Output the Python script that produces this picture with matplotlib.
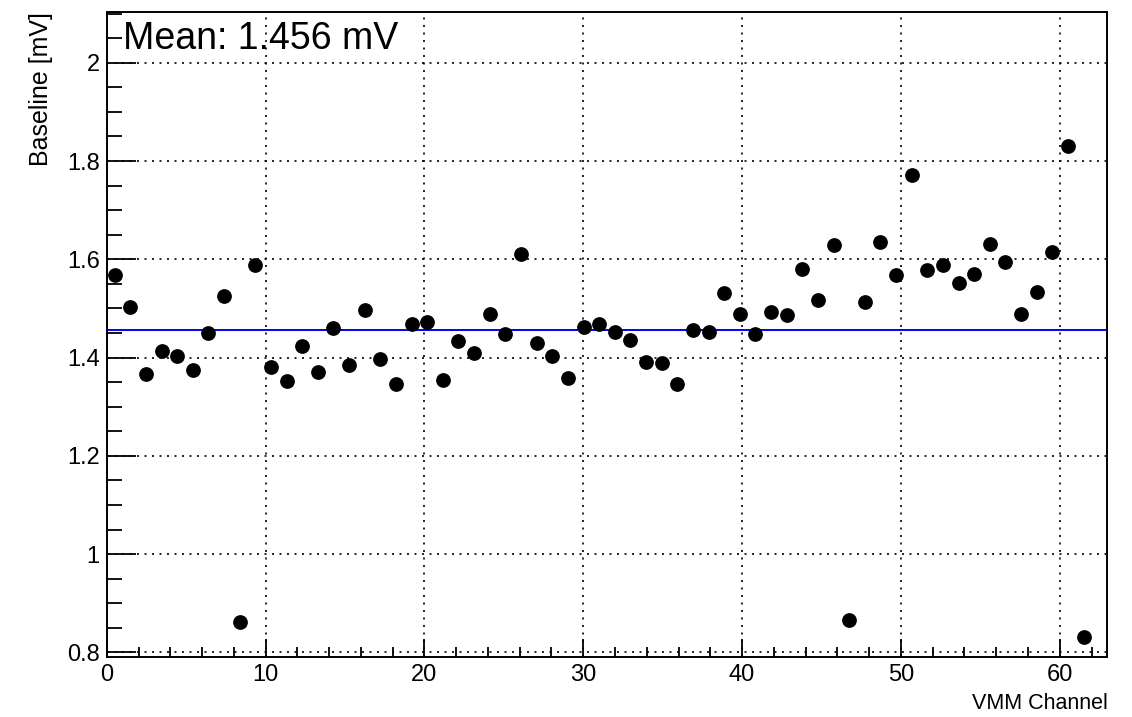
import numpy as np
import matplotlib
matplotlib.use("Agg")
import matplotlib.pyplot as plt
from matplotlib.ticker import MultipleLocator

plt.rcParams['font.family'] = ['Liberation Sans', 'DejaVu Sans']

# baseline per VMM channel [mV]
baseline = [1.569, 1.502, 1.367, 1.414, 1.403, 1.375, 1.450, 1.526, 0.862, 1.588,
            1.380, 1.352, 1.423, 1.370, 1.461, 1.385, 1.497, 1.397, 1.346, 1.468,
            1.472, 1.354, 1.434, 1.409, 1.489, 1.448, 1.611, 1.429, 1.404, 1.358,
            1.463, 1.468, 1.453, 1.436, 1.392, 1.388, 1.346, 1.457, 1.453, 1.531,
            1.489, 1.447, 1.493, 1.487, 1.581, 1.517, 1.629, 0.865, 1.514, 1.635,
            1.568, 1.772, 1.578, 1.588, 1.551, 1.570, 1.631, 1.595, 1.489, 1.534,
            1.614, 1.831, 0.831]
mean_value = 1.456
x_first = 0.5
x_last = 61.5

channel = np.linspace(x_first, x_last, len(baseline))

fig = plt.figure(figsize=(11.32, 7.17), dpi=100)
ax = fig.add_axes([0.0943, 0.0833, 0.8840, 0.8997])

ax.plot(channel, baseline, 'o', color='black', markersize=9.6, zorder=3)
ax.axhline(mean_value, color='#0000ff', linewidth=1.4, zorder=2)

ax.set_xlim(0, 63)
ax.set_ylim(0.79, 2.103)

ax.xaxis.set_major_locator(MultipleLocator(10))
ax.xaxis.set_minor_locator(MultipleLocator(2))
ax.yaxis.set_major_locator(MultipleLocator(0.2))
ax.yaxis.set_minor_locator(MultipleLocator(0.05))
ax.set_yticks([0.8, 1.0, 1.2, 1.4, 1.6, 1.8, 2.0])
ax.set_yticklabels(['0.8', '1', '1.2', '1.4', '1.6', '1.8', '2'])

ax.grid(True, which='major', color='black', linestyle=(0, (1.2, 3.3)), linewidth=1.2)
ax.tick_params(which='both', direction='in', top=False, right=False,
               labelsize=17, width=1.3, pad=5)
ax.tick_params(axis='x', which='major', length=13)
ax.tick_params(axis='x', which='minor', length=7)
ax.tick_params(axis='y', which='major', length=21)
ax.tick_params(axis='y', which='minor', length=11)
for s in ax.spines.values():
    s.set_linewidth(1.4)

ax.set_xlabel('VMM Channel', fontsize=15.5, loc='right', labelpad=5)
ax.set_ylabel('Baseline [mV]', fontsize=18, loc='top', labelpad=10)

ax.text(0.016, 0.987, 'Mean: 1.456 mV', transform=ax.transAxes,
        fontsize=27, ha='left', va='top')

fig.savefig('out.png', dpi=100)
